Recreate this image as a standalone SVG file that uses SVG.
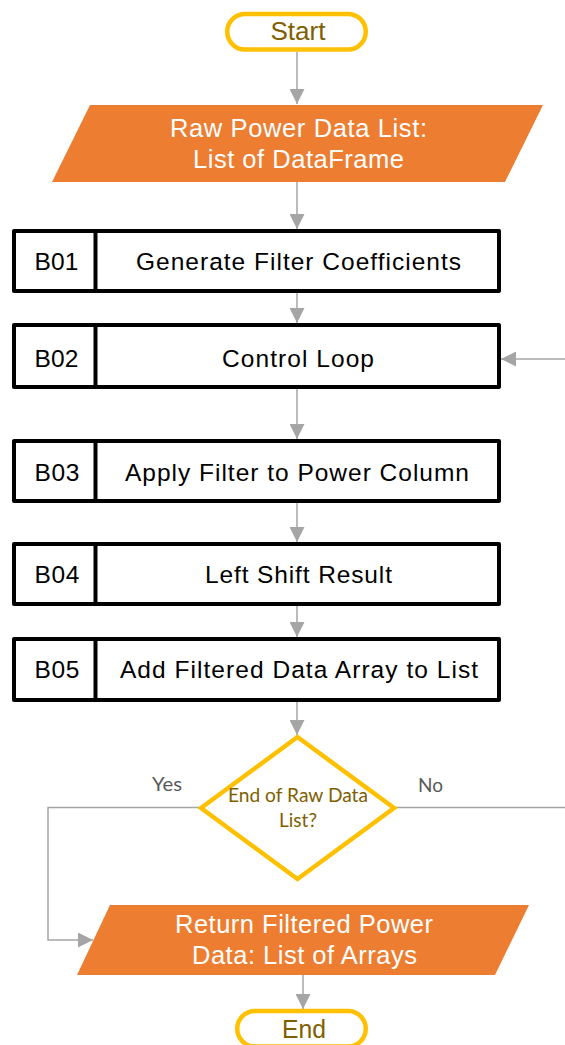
<svg xmlns="http://www.w3.org/2000/svg" width="565" height="1045" viewBox="0 0 565 1045">
  <style>
    .term { fill: #ffffff; stroke: #FFC000; stroke-width: 4.5; }
    .term-text { font-family: "Liberation Sans", Arial, sans-serif; font-size: 25px; fill: #7F6000; text-anchor: middle; }
    .io { fill: #ED7D31; stroke: none; }
    .io-text { font-family: "Liberation Sans", Arial, sans-serif; font-size: 25.5px; fill: #ffffff; text-anchor: middle; }
    .step { fill: #ffffff; stroke: #000000; stroke-width: 4; stroke-linejoin: round; }
    .divider { stroke: #000000; stroke-width: 4; }
    .step-text { font-family: "Liberation Sans", Arial, sans-serif; font-size: 24.5px; fill: #000000; text-anchor: middle; }
    .decision { fill: #ffffff; stroke: #FFC000; stroke-width: 4.5; stroke-linejoin: miter; }
    .decision-text { font-family: Lato, "Open Sans", sans-serif; font-size: 19.5px; fill: #7F6000; text-anchor: middle; }
    .branch-text { font-family: Lato, "Open Sans", sans-serif; font-size: 19px; fill: #595959; text-anchor: middle; }
    .conn { fill: none; stroke: #A5A5A5; stroke-width: 1.5; }
  </style>
  <defs>
    <marker id="arrow" viewBox="0 0 10 10" refX="10" refY="5" markerWidth="15" markerHeight="15" markerUnits="userSpaceOnUse" orient="auto">
      <path d="M0,0 L10,5 L0,10 Z" fill="#A5A5A5"/>
    </marker>
  </defs>

  <!-- connectors -->
  <g id="connectors">
    <path class="conn" d="M297,52 L297,104" marker-end="url(#arrow)"/>
    <path class="conn" d="M297,182 L297,229" marker-end="url(#arrow)"/>
    <path class="conn" d="M297,293 L297,323" marker-end="url(#arrow)"/>
    <path class="conn" d="M297,389 L297,439" marker-end="url(#arrow)"/>
    <path class="conn" d="M297,503 L297,542" marker-end="url(#arrow)"/>
    <path class="conn" d="M297,606 L297,637" marker-end="url(#arrow)"/>
    <path class="conn" d="M297,702 L297,735" marker-end="url(#arrow)"/>
    <path class="conn" d="M200,807.5 L48,807.5 L48,940 L93,940" marker-end="url(#arrow)"/>
    <path class="conn" d="M395,807.5 L565,807.5"/>
    <path class="conn" d="M565,359 L501,359" marker-end="url(#arrow)"/>
    <path class="conn" d="M303,975 L303,1009" marker-end="url(#arrow)"/>
    <text class="branch-text" x="167" y="791" textLength="30" lengthAdjust="spacingAndGlyphs">Yes</text>
    <text class="branch-text" x="430.5" y="792" textLength="25" lengthAdjust="spacingAndGlyphs">No</text>
  </g>

  <!-- start -->
  <g id="start">
    <rect class="term" x="227.25" y="14" width="138.5" height="35.5" rx="17.75"/>
    <text class="term-text" x="298" y="40" textLength="55" lengthAdjust="spacingAndGlyphs">Start</text>
  </g>

  <!-- input data -->
  <g id="raw-data">
    <polygon class="io" points="90,105 543,105 505,182 52,182"/>
    <text class="io-text" x="298.5" y="137" textLength="257" lengthAdjust="spacing">Raw Power Data List:</text>
    <text class="io-text" x="298.5" y="168" textLength="211" lengthAdjust="spacing">List of DataFrame</text>
  </g>

  <!-- processing steps -->
  <g id="b01">
    <rect class="step" x="14" y="231" width="485" height="60"/>
    <line class="divider" x1="95.5" y1="231" x2="95.5" y2="291"/>
    <text class="step-text" x="56.5" y="270" textLength="44" lengthAdjust="spacing">B01</text>
    <text class="step-text" x="298.5" y="270" textLength="325" lengthAdjust="spacing">Generate Filter Coefficients</text>
  </g>

  <g id="b02">
    <rect class="step" x="14" y="325" width="485" height="62"/>
    <line class="divider" x1="95.5" y1="325" x2="95.5" y2="387"/>
    <text class="step-text" x="56.5" y="367" textLength="44" lengthAdjust="spacing">B02</text>
    <text class="step-text" x="298" y="367" textLength="152" lengthAdjust="spacing">Control Loop</text>
  </g>

  <g id="b03">
    <rect class="step" x="14" y="441" width="485" height="60"/>
    <line class="divider" x1="95.5" y1="441" x2="95.5" y2="501"/>
    <text class="step-text" x="57" y="481" textLength="45" lengthAdjust="spacing">B03</text>
    <text class="step-text" x="297" y="481" textLength="344" lengthAdjust="spacing">Apply Filter to Power Column</text>
  </g>

  <g id="b04">
    <rect class="step" x="14" y="544" width="485" height="60"/>
    <line class="divider" x1="95.5" y1="544" x2="95.5" y2="604"/>
    <text class="step-text" x="57" y="583" textLength="45" lengthAdjust="spacing">B04</text>
    <text class="step-text" x="298.5" y="583" textLength="187" lengthAdjust="spacing">Left Shift Result</text>
  </g>

  <g id="b05">
    <rect class="step" x="14" y="639" width="485" height="61"/>
    <line class="divider" x1="95.5" y1="639" x2="95.5" y2="700"/>
    <text class="step-text" x="57" y="678" textLength="45" lengthAdjust="spacing">B05</text>
    <text class="step-text" x="299" y="678" textLength="358" lengthAdjust="spacing">Add Filtered Data Array to List</text>
  </g>

  <!-- decision -->
  <g id="decision">
    <polygon class="decision" points="297.5,737 394,808 297.5,879 201,808"/>
    <text class="decision-text" x="298" y="802" textLength="140" lengthAdjust="spacingAndGlyphs">End of Raw Data</text>
    <text class="decision-text" x="298" y="827" textLength="38" lengthAdjust="spacingAndGlyphs">List?</text>
  </g>

  <!-- output data -->
  <g id="filtered-data">
    <polygon class="io" points="110,905 529,905 495,975 77,975"/>
    <text class="io-text" x="304" y="933" textLength="258" lengthAdjust="spacing">Return Filtered Power</text>
    <text class="io-text" x="304.5" y="964" textLength="225" lengthAdjust="spacing">Data: List of Arrays</text>
  </g>

  <!-- end -->
  <g id="end">
    <rect class="term" x="237.25" y="1011" width="128.5" height="35.5" rx="17.75"/>
    <text class="term-text" x="304" y="1038" textLength="44" lengthAdjust="spacingAndGlyphs">End</text>
  </g>
</svg>
